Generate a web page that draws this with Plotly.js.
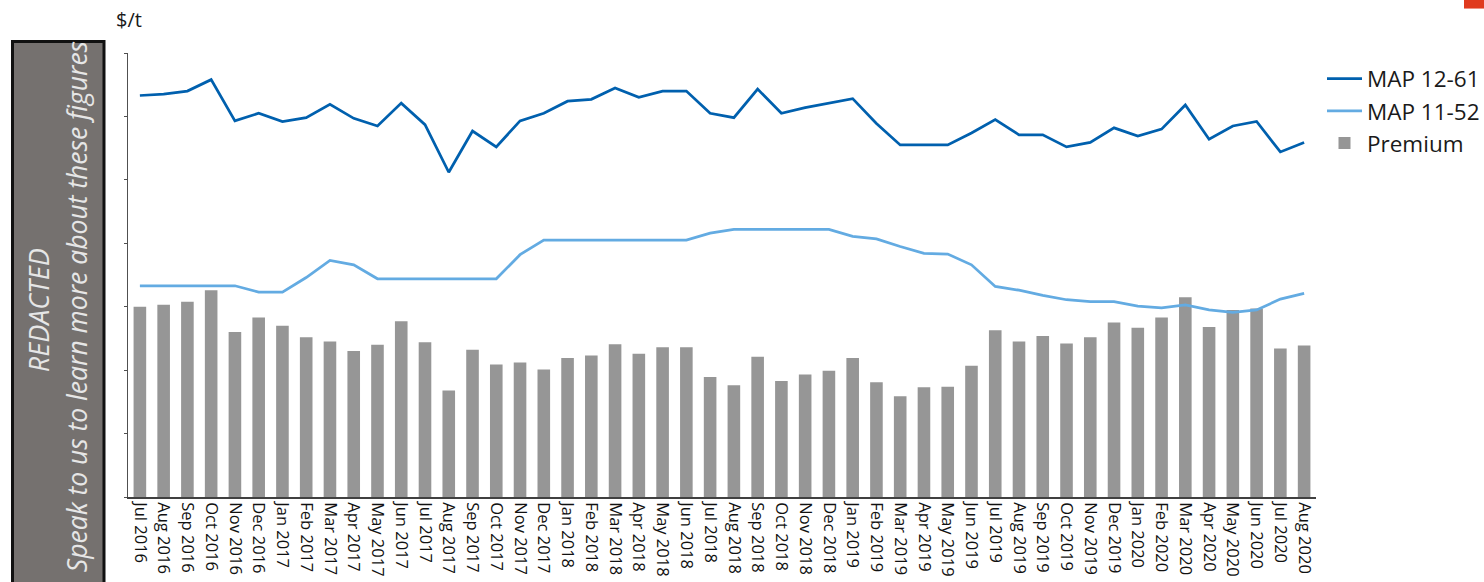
<!DOCTYPE html>
<html>
<head>
<meta charset="utf-8">
<script src="https://cdn.plot.ly/plotly-3.0.1.min.js"></script>
<style>html,body{margin:0;padding:0;background:#fff;}#chart{width:1484px;height:582px;}</style>
</head>
<body>
<div id="chart"></div>
<script>
const months = ["Jul 2016","Aug 2016","Sep 2016","Oct 2016","Nov 2016","Dec 2016","Jan 2017","Feb 2017","Mar 2017","Apr 2017","May 2017","Jun 2017","Jul 2017","Aug 2017","Sep 2017","Oct 2017","Nov 2017","Dec 2017","Jan 2018","Feb 2018","Mar 2018","Apr 2018","May 2018","Jun 2018","Jul 2018","Aug 2018","Sep 2018","Oct 2018","Nov 2018","Dec 2018","Jan 2019","Feb 2019","Mar 2019","Apr 2019","May 2019","Jun 2019","Jul 2019","Aug 2019","Sep 2019","Oct 2019","Nov 2019","Dec 2019","Jan 2020","Feb 2020","Mar 2020","Apr 2020","May 2020","Jun 2020","Jul 2020","Aug 2020"];

const map1261 = [633,635,640,658,593,605,592,598,619,597,585,621,587,512,577,552,593,605,624,627,645,630,640,640,605,598,643,605,614,621,628,589,555,555,555,574,595,571,571,552,559,582,569,580,618,564,585,592,544,559];

const map1152 = [333,333,333,333,333,323,323,346,373,366,344,344,344,344,344,344,382,405,405,405,405,405,405,405,416,422,422,422,422,422,411,407,395,384,383,366,332,326,318,311,308,308,301,298,303,295,291,295,312,321];

const premium = [300,303,308,326,260,283,270,252,245,230,240,277,244,168,232,209,212,201,219,223,241,226,236,236,189,176,221,183,193,199,219,181,159,173,174,207,263,245,254,242,252,275,267,283,315,268,295,297,234,239];

const seriesNames = ["MAP 12-61", "MAP 11-52", "Premium"];
const unitLabel = "$/t";
const redactedTitle = "REDACTED";
const redactedText = "Speak to us to learn more about these figures";

// plot-area geometry in pixels (styling only)
const W = 1484, H = 582;
const L = 128, R = 1316, T = 52.5, B = 497;
const pw = R - L, ph = B - T;
const px = x => (x - L) / pw;
const py = y => (B - y) / ph;

const FONT = "Open Sans, Segoe UI, DejaVu Sans, sans-serif";

const traces = [
  {
    x: months, y: map1261, name: seriesNames[0], type: "scatter", mode: "lines",
    line: {color: "#0060ae", width: 2.75}
  },
  {
    x: months, y: map1152, name: seriesNames[1], type: "scatter", mode: "lines",
    line: {color: "#63abe2", width: 2.75}
  },
  {
    x: months, y: premium, name: seriesNames[2], type: "bar",
    marker: {color: "#969696"}, width: 0.53
  }
];

const layout = {
  width: W, height: H,
  margin: {l: L, r: W - R, t: T, b: H - B, autoexpand: false},
  paper_bgcolor: "#ffffff", plot_bgcolor: "#ffffff",
  font: {family: FONT, color: "#1a1a1a"},
  showlegend: true,
  legend: {
    x: px(1322), y: py(57), xanchor: "left", yanchor: "top",
    font: {family: FONT, size: 22.5, color: "#1a1a1a"},
    bgcolor: "rgba(0,0,0,0)", borderwidth: 0, itemwidth: 35,
    traceorder: "normal"
  },
  xaxis: {
    type: "category", range: [-0.5, 49.5],
    showline: true, linecolor: "#404040", linewidth: 2,
    ticks: "", tickangle: 90,
    tickfont: {family: FONT, size: 16.5, color: "#111"},
    showgrid: false, zeroline: false, fixedrange: true
  },
  yaxis: {
    range: [0, 700], dtick: 100, tick0: 0,
    showline: true, linecolor: "#505050", linewidth: 1.5,
    ticks: "outside", ticklen: 3, tickcolor: "#505050", tickwidth: 1,
    showticklabels: false, showgrid: false, zeroline: false, fixedrange: true
  },
  bargap: 0.47,
  shapes: [
    {
      type: "rect", xref: "paper", yref: "paper", layer: "above",
      x0: px(12.5), x1: px(104), y0: py(600), y1: py(41),
      fillcolor: "#75716f", line: {color: "#111111", width: 3}
    },
    {
      type: "rect", xref: "paper", yref: "paper", layer: "above",
      x0: px(1464), x1: px(1490), y0: py(8), y1: py(-5),
      fillcolor: "#e03a1e", line: {width: 0}
    }
  ],
  annotations: [
    {
      text: unitLabel, xref: "paper", yref: "paper", x: px(129), y: py(19),
      xanchor: "center", yanchor: "middle", showarrow: false,
      font: {family: FONT, size: 20, color: "#1a1a1a"}
    },
    {
      text: "<i>" + redactedTitle + "</i>", xref: "paper", yref: "paper",
      x: px(38), y: py(310), xanchor: "center", yanchor: "middle",
      textangle: -90, showarrow: false,
      font: {family: FONT, size: 27, color: "#e6e6e6"}
    },
    {
      text: "<i>" + redactedText + "</i>", xref: "paper", yref: "paper",
      x: px(77), y: py(307), xanchor: "center", yanchor: "middle",
      textangle: -90, showarrow: false,
      font: {family: FONT, size: 26.5, color: "#e6e6e6"}
    }
  ]
};

Plotly.newPlot("chart", traces, layout, {displayModeBar: false, staticPlot: true});
</script>
</body>
</html>
